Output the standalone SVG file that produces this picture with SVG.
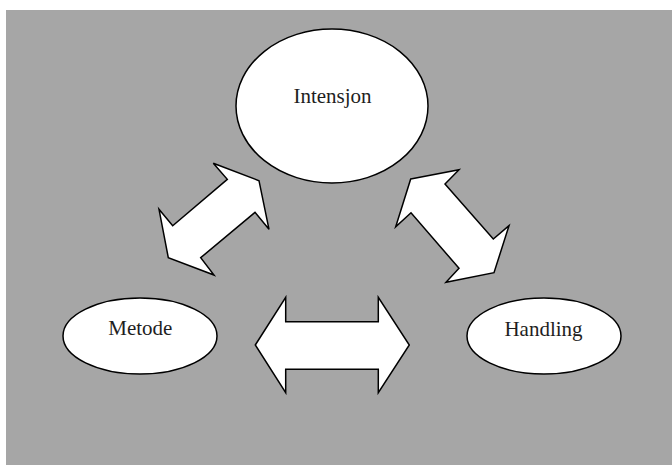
<svg xmlns="http://www.w3.org/2000/svg" width="672" height="465" viewBox="0 0 672 465">
  <style>
    .node { fill: #ffffff; stroke: #000000; stroke-width: 1.5; }
    .arrow { fill: #ffffff; stroke: #000000; stroke-width: 1.5; stroke-linejoin: miter; }
    .label { font-family: "Liberation Serif", "Times New Roman", serif; font-size: 21px; fill: #1e1e1e; text-anchor: middle; }
  </style>
  <!-- backdrop -->
  <rect x="0" y="0" width="672" height="465" fill="#ffffff"/>
  <rect x="6" y="10" width="666" height="455" fill="#a6a6a6"/>

  <!-- double-headed block arrows between the three concepts -->
  <g id="connectors">
    <polygon class="arrow" points="213.3,163.3 259,180.7 269,229.3 255,212.3 200.7,257.7 214,275 168.3,257.7 159,209.3 172.7,225.7 227.3,179.3"/>
    <polygon class="arrow" points="410.7,179 459,169.7 445,184 493.3,239 509,225.7 494,272.7 446,282.3 459,268.3 411,212.7 395.7,226.7"/>
    <polygon class="arrow" points="255.3,345 285.7,297.3 285.7,321.7 378.3,321.7 378.3,297.3 409.3,345 378.3,392.7 378.3,369.3 285.7,369.3 285.7,392.7"/>
  </g>

  <g id="intensjon">
    <ellipse class="node" cx="332" cy="106" rx="96" ry="77"/>
    <text class="label" x="332.5" y="102.7">Intensjon</text>
  </g>

  <g id="metode">
    <ellipse class="node" cx="140" cy="336" rx="77" ry="38"/>
    <text class="label" x="140.3" y="335">Metode</text>
  </g>

  <g id="handling">
    <ellipse class="node" cx="544" cy="336" rx="77" ry="38"/>
    <text class="label" x="543.5" y="335.7">Handling</text>
  </g>
</svg>
